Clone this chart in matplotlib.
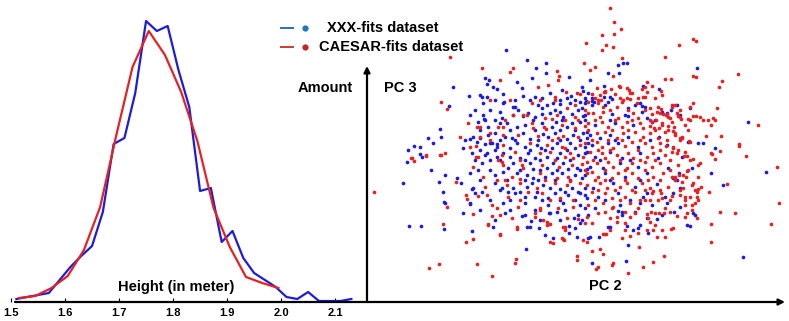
import matplotlib
matplotlib.use("Agg")
import matplotlib.pyplot as plt
from matplotlib.lines import Line2D

plt.rcParams['font.family'] = ['Liberation Sans', 'DejaVu Sans']
plt.rcParams['font.weight'] = 'bold'

# height histograms (bin centre in meter, amount)
height_xxx = [1.51, 1.53, 1.55, 1.57, 1.59, 1.61, 1.63, 1.65, 1.67, 1.69, 1.71, 1.73,
              1.75, 1.77, 1.79, 1.81, 1.83, 1.85, 1.87, 1.89, 1.91, 1.93, 1.95, 1.97,
              1.99, 2.01, 2.03, 2.05, 2.07, 2.09, 2.11, 2.13]
amount_xxx = [3, 5, 7, 9, 22, 35, 46, 56, 90, 158, 164, 209,
              281, 271, 276, 232, 195, 111, 114, 60, 71, 44, 29, 22,
              15, 5, 3, 10, 1, 1, 1, 3]
height_caesar = [1.515, 1.545, 1.575, 1.605, 1.635, 1.665, 1.695, 1.725, 1.755,
                 1.785, 1.815, 1.845, 1.875, 1.905, 1.935, 1.965, 1.995]
amount_caesar = [4, 6, 14, 26, 52, 95, 167, 235, 271, 247, 210, 161, 94, 55, 25, 19, 14]
height_ticks = [1.5, 1.6, 1.7, 1.8, 1.9, 2.0, 2.1]

# (PC 2, PC 3) scores
xxx_scores = [
    (136,250),(157,240),(176,237),(166,232),(176,227),(199,223),(115,222),(119,220),(147,218),(162,222),
    (83,213),(117,216),(123,213),(127,211),(152,212),(99,204),(112,203),(117,203),(133,206),(134,198),
    (79,194),(145,193),(143,185),(100,185),(113,185),(114,181),(118,173),(130,177),(70,171),(71,163),
    (58,162),(63,157),(44,154),(50,153),(38,150),(95,160),(100,161),(107,158),(120,157),(127,156),
    (93,152),(115,145),(127,143),(192,210),(201,204),(190,196),
    (253,237),(257,237),(248,235),(238,227),(249,227),(327,232),(220,220),(234,214),(212,213),(213,209),
    (273,214),(289,211),(234,203),(210,198),(216,199),(222,199),(224,198),(242,201),(270,197),(272,194),
    (275,193),(292,188),(301,190),(307,195),(320,192),(378,178),(310,185),(297,187),(277,182),(282,178),
    (289,163),(318,158),(333,157),(345,152),
    (396,128),(373,43),(341,127),(353,115),(323,87),(325,85),(320,74),(304,88),(277,82),(270,75),
    (257,74),(263,70),(240,73),(229,63),(218,62),(258,55),(256,39),(222,37),(309,127),(307,120),
    (297,97),(295,103),(287,81),(210,77),(212,80),(248,89),(252,88),(265,88),(277,107),(270,97),
    (33,117),(37,138),(50,146),(52,143),(61,130),(75,125),(69,118),(87,122),(91,117),(73,108),
    (74,98),(75,97),(39,74),(51,74),(74,71),(93,87),(100,96),(102,111),(105,107),(102,69),
    (123,73),(135,87),(157,73),(156,51),(152,84),(161,79),(169,72),(183,62),(179,87),
    (187,88),(199,74),(199,67),(204,82),
    (110,205),(153,204),(165,203),(172,202),(180,207),(197,202),(215,202),
    (113,197),(133,197),(143,193),(168,195),(177,195),(172,192),(183,197),(200,197),(212,192),
    (130,188),(132,182),(153,184),(158,187),(165,183),(172,186),(180,187),(193,183),(202,186),(213,184),(190,188),
    (108,178),(137,177),(147,173),(155,175),(172,177),(182,173),(186,178),(197,173),(202,177),(210,178),
    (103,163),(110,162),(118,165),(125,167),(135,163),(142,162),(153,167),(160,161),(173,166),(178,163),
    (185,167),(197,161),(203,165),(213,167),(217,162),
    (115,156),(122,157),(127,153),(140,152),(147,157),(155,153),(167,155),(171,152),(182,152),(187,157),
    (200,157),(205,152),(215,153),(218,157),
    (102,147),(117,147),(133,147),(140,143),(150,142),(158,147),(165,142),(177,143),(187,142),(190,147),
    (208,145),(217,148),
    (112,137),(138,132),(143,137),(160,137),(163,131),(177,132),(183,137),(193,137),(198,131),(207,132),(217,131),
    (100,127),(125,125),(133,128),(147,127),(157,125),(163,122),(175,123),(182,127),(192,127),(205,125),(212,122),
    (103,112),(125,117),(132,112),(143,112),(157,113),(162,117),(173,115),(180,112),(190,111),(202,112),(215,112),
    (130,110),(145,107),(155,103),(165,103),(178,102),(185,107),(198,105),(210,107),(217,102),
    (100,97),(133,97),(155,97),(178,95),(193,97),(210,95),(215,92),
    (155,85),(180,87),(208,85),(160,73),(205,72),(175,65),(207,63),
    (240,203),(222,202),(218,207),(222,195),(238,198),(258,192),(215,197),
    (215,185),(242,186),(255,185),(258,184),(272,188),
    (225,175),(245,177),(263,175),
    (217,168),(220,165),(230,162),(240,165),(258,163),(328,157),
    (222,155),(238,157),(248,157),(268,153),(297,155),
    (215,147),(225,143),(240,148),(252,142),(270,147),(288,142),(312,143),
    (220,133),(233,132),(250,137),(268,133),(298,132),(322,132),
    (215,125),(235,127),(255,123),(277,127),(303,122),
    (223,112),(243,117),(265,113),(287,116),(310,112),
    (215,105),(228,103),(248,107),(273,103),(303,107),
    (225,92),(250,95),(282,95),(310,93),
    (218,85),(252,85),(292,85),
    (238,73),(268,72),(317,75),
    (220,63),(278,67),
    (125,200),(145,200),(160,200),(190,200),(205,200),
    (105,190),(120,190),(148,190),(185,190),(208,190),
    (115,180),(125,180),(163,180),(192,180),(215,180),
    (110,170),(140,170),(165,170),(190,170),(205,170),
    (130,160),(145,160),(168,160),(190,160),(210,160),
    (110,150),(125,150),(160,150),(175,150),(197,150),
    (105,140),(120,140),(130,140),(155,140),(170,140),(200,140),
    (108,130),(120,130),(150,130),(170,130),(187,130),(210,130),
    (110,120),(137,120),(155,120),(168,120),(185,120),(200,120),
    (112,108),(138,108),(150,108),(167,108),(195,108),(208,108),
    (120,100),(140,100),(172,100),(190,100),(205,100),
    (110,90),(140,90),(165,90),(195,90),
    (125,80),(170,80),(190,80),
    (235,195),(265,195),(240,180),(285,180),(245,160),(280,160),
    (230,140),(260,140),(240,120),(270,120),(235,100),(260,100),
]

caesar_scores = [
    (80,243),(112,232),(143,232),(140,228),(187,229),(189,224),(130,220),(168,213),(178,215),(188,220),
    (120,200),(71,198),(77,191),(153,185),(157,185),(98,177),(107,173),(110,173),(120,167),(133,173),
    (133,165),(56,145),(41,142),(70,145),(90,163),(110,163),(100,153),(106,154),(106,143),(132,145),
    (196,208),(185,200),
    (240,292),(244,278),(251,271),(232,265),(244,266),(216,257),(236,255),(232,250),(243,253),(309,255),
    (323,261),(326,259),(295,243),(214,237),(252,242),(225,233),(220,230),(323,224),(326,223),(368,226),
    (352,219),(349,213),(295,221),(301,221),(243,224),(277,218),(227,212),(235,209),(234,208),(241,211),
    (249,214),(250,213),(257,212),(259,210),(262,207),(272,211),(275,213),(282,214),(277,208),(291,209),
    (222,206),(228,200),(231,200),(253,200),(260,201),(273,203),(302,195),(288,193),(291,191),(323,197),
    (347,192),(326,184),(333,180),(338,180),(343,182),(345,180),(388,175),(341,175),(310,183),(311,181),
    (318,181),(307,187),(300,182),(293,186),(296,185),(287,188),(282,186),(286,180),(292,175),(280,174),
    (284,172),(289,172),(298,174),(303,169),(305,165),(310,162),(312,162),(319,159),(336,164),(351,164),
    (369,156),(369,154),(376,144),(341,147),(342,146),(350,149),(314,144),(317,144),(307,147),(303,153),
    (296,154),(290,157),
    (407,133),(409,97),(365,87),(350,88),(401,76),(341,76),(341,58),(345,141),(357,116),(339,108),
    (327,103),(328,100),(315,100),(322,95),(327,82),(307,84),(317,87),(294,87),(289,87),(285,87),
    (281,88),(280,78),(292,70),(301,71),(283,70),(277,70),(287,63),(268,67),(260,64),(255,70),
    (247,78),(240,70),(233,66),(236,66),(213,60),(217,58),(269,53),(230,51),(222,49),(233,46),
    (294,44),(283,38),(273,33),(243,37),(242,35),(228,33),(226,31),(258,27),(330,137),(328,135),
    (323,141),(317,129),(309,125),(305,123),(302,123),(316,123),(312,118),(323,117),(325,110),(328,111),
    (331,113),(320,103),(325,97),(313,112),(310,105),(302,104),(291,107),(288,100),(315,95),(243,93),
    (260,83),(247,83),(277,86),(270,100),(275,100),(283,109),
    (4,108),(42,142),(44,139),(56,144),(71,145),(75,147),(86,118),(77,93),(73,76),(96,105),
    (97,101),(108,104),(103,86),(103,61),(96,58),(107,36),(69,36),(59,32),(122,24),(118,75),
    (130,65),(122,84),(127,92),(147,71),(146,41),(145,37),(173,80),(177,78),(180,76),(180,58),
    (183,57),(165,87),(170,90),(193,73),(195,70),(193,61),(194,60),(207,44),(207,40),(208,81),
    (185,203),(207,207),(210,206),(162,197),(205,195),(197,192),
    (143,185),(175,182),(182,181),(187,185),(205,183),(208,180),(218,187),
    (128,173),(162,177),(163,172),(174,173),(176,171),(192,175),(205,172),(215,174),
    (148,165),(168,164),(188,162),(193,164),(208,163),
    (133,155),(160,157),(177,155),(192,153),(195,152),(210,155),
    (108,143),(128,140),(145,148),(170,147),(180,148),(195,143),(200,147),(203,142),(213,143),
    (103,133),(132,138),(133,135),(152,135),(153,132),(172,135),(189,133),(202,135),(212,136),
    (113,123),(127,120),(142,123),(150,121),(170,127),(187,122),(198,123),(200,119),(217,127),
    (115,113),(137,115),(150,117),(167,112),(185,117),(197,115),(210,117),
    (117,105),(138,103),(158,108),(172,107),(190,102),(203,100),
    (122,95),(148,93),(170,92),(188,92),(203,93),
    (130,85),(142,82),(165,83),(197,82),(217,83),
    (118,76),(147,73),(177,75),(195,73),(215,77),
    (130,66),(192,62),
    (230,205),(235,208),(245,206),(257,202),(260,207),(275,203),(292,205),
    (218,198),(228,197),(233,193),(247,193),(252,198),(267,197),(280,192),(302,193),(305,195),(320,193),
    (223,187),(230,183),(233,188),(248,182),(263,187),(268,182),(290,187),(297,186),(298,183),(308,184),
    (323,184),(330,183),
    (218,177),(232,178),(238,173),(252,173),(257,178),(270,177),(273,172),(282,178),(292,177),(302,178),
    (304,173),(315,175),
    (227,167),(235,168),(247,162),(253,167),(265,168),(273,163),(280,167),(288,162),(295,168),(312,163),
    (320,158),(305,167),
    (215,157),(227,158),(232,153),(243,152),(255,154),(262,158),(275,157),(282,153),(303,152),
    (220,148),(232,147),(235,142),(247,145),(258,147),(263,142),(277,143),(283,147),(295,145),(302,148),(315,148),
    (217,138),(227,137),(238,138),(243,133),(257,132),(262,137),(275,138),(282,133),(290,137),(308,135),
    (222,128),(228,123),(242,122),(248,127),(262,127),(268,122),(283,123),(293,127),(313,125),(328,123),
    (217,115),(230,117),(237,112),(250,113),(257,117),(272,117),(280,112),(298,113),(322,115),
    (222,108),(235,107),(242,102),(255,103),(265,108),(282,107),(292,102),(315,103),(327,108),
    (218,95),(233,97),(242,92),(260,97),(268,92),(295,92),(322,90),
    (228,87),(240,82),(265,87),(278,82),(315,83),
    (222,77),(255,77),(285,75),(303,72),
    (235,66),(252,62),(295,63),
    (225,202),(250,202),(268,202),(285,202),
    (215,190),(240,190),(258,190),(275,190),(310,190),
    (225,180),(245,180),(262,180),(280,180),(320,180),
    (218,170),(242,170),(258,170),(285,170),(298,170),(318,170),
    (222,160),(238,160),(252,160),(270,160),(297,160),(310,160),
    (228,150),(240,150),(268,150),(290,150),(308,150),
    (223,140),(250,140),(270,140),(285,140),(300,140),(320,140),
    (215,130),(235,130),(255,130),(275,130),(300,130),(318,130),
    (225,120),(235,120),(255,120),(278,120),(290,120),(305,120),
    (228,110),(245,110),(262,110),(275,110),(290,110),(310,110),
    (225,100),(250,100),(280,100),(300,100),
    (235,88),(255,88),(300,88),
    (140,200),(170,200),(135,180),(195,180),(120,160),(182,160),
    (150,140),(185,140),(135,120),(175,120),(150,100),(180,100),
]

BLUE = '#1c1ce0'
RED = '#e52222'

W, H = 789, 321
fig = plt.figure(figsize=(W / 100, H / 100), dpi=100)


def box(x0, y0, x1, y1):
    # pixel box (top-left origin) -> figure fraction rect
    return [x0 / W, 1 - y1 / H, (x1 - x0) / W, (y1 - y0) / H]


# left: height distribution
ax1 = fig.add_axes(box(11, 10, 367, 302))
ax1.plot(height_xxx, amount_xxx, color=BLUE, lw=1.6)
ax1.plot(height_caesar, amount_caesar, color=RED, lw=1.6)
ax1.set_xlim(1.5, 2.159)
ax1.set_ylim(0, 292)
for s in ax1.spines.values():
    s.set_visible(False)
ax1.set_yticks([])
ax1.set_xticks(height_ticks)
ax1.set_xticklabels(['%.1f' % t for t in height_ticks])
ax1.tick_params(axis='x', direction='in', length=3, width=0.8, labelsize=8, pad=4, colors='black')
ax1.text(1.806, 15, 'Height (in meter)', ha='center', va='center', fontsize=10.5)
ax1.patch.set_alpha(0)

# right: PCA scatter
ax2 = fig.add_axes(box(367, 0, 785, 302))
ax2.scatter([p[0] for p in xxx_scores], [p[1] for p in xxx_scores], s=7, color=BLUE, linewidths=0)
ax2.scatter([p[0] for p in caesar_scores], [p[1] for p in caesar_scores], s=7, color=RED, linewidths=0)
ax2.set_xlim(-3, 415)
ax2.set_ylim(-2, 300)
ax2.axis('off')

# axis arrows
arrow = dict(arrowstyle='-|>', color='black', lw=1.6, mutation_scale=9, shrinkA=0, shrinkB=0)
ax2.annotate('', xy=(785 / W, 1 - 302 / H), xytext=(15 / W, 1 - 302 / H),
             xycoords='figure fraction', textcoords='figure fraction', arrowprops=arrow)
ax2.annotate('', xy=(367 / W, 1 - 66 / H), xytext=(367 / W, 1 - 302 / H),
             xycoords='figure fraction', textcoords='figure fraction', arrowprops=arrow)

fig.text(325 / W, 1 - 88 / H, 'Amount', ha='center', va='center', fontsize=10.5)
fig.text(400 / W, 1 - 88 / H, 'PC 3', ha='center', va='center', fontsize=10.5)
fig.text(605 / W, 1 - 286 / H, 'PC 2', ha='center', va='center', fontsize=10.5)

# legend
for y, lc, dc, label, tx in [(28, '#2a6fcc', '#1f77c4', 'XXX-fits dataset', 327),
                             (47, '#d23a2e', '#c0281c', 'CAESAR-fits dataset', 319)]:
    fy = 1 - y / H
    fig.add_artist(Line2D([281 / W, 293 / W], [fy, fy], color=lc, lw=1.4))
    fig.add_artist(Line2D([305 / W], [fy], marker='o', markersize=4.5, color=dc, markeredgewidth=0))
    fig.text(tx / W, fy, label, ha='left', va='center', fontsize=10.5)

fig.savefig('out.png', dpi=100)
